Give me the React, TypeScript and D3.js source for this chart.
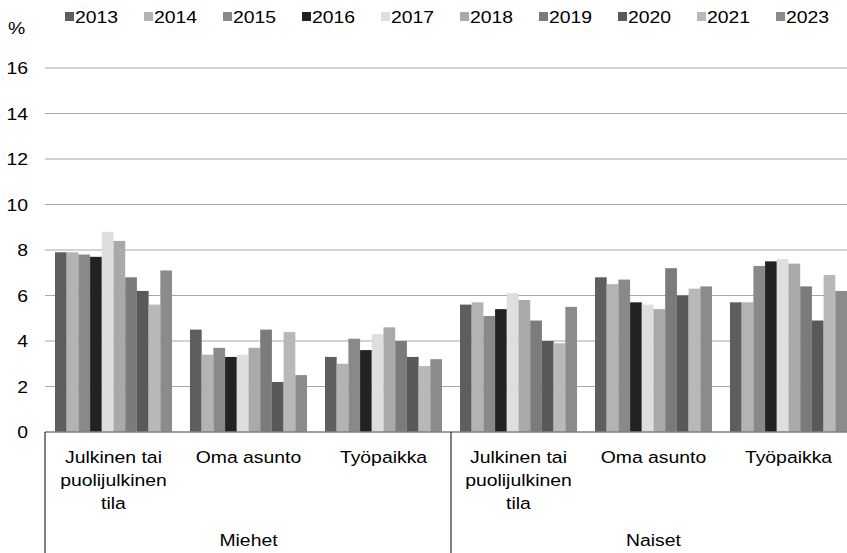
import React from "react";
import * as d3 from "d3";

const years = ["2013", "2014", "2015", "2016", "2017", "2018", "2019", "2020", "2021", "2023"];
const groups = ["Miehet", "Naiset"];
const places = ["Julkinen tai puolijulkinen tila", "Oma asunto", "Työpaikka"];
const placeLines = [["Julkinen tai", "puolijulkinen", "tila"], ["Oma asunto"], ["Työpaikka"]];
const yTicks = [0, 2, 4, 6, 8, 10, 12, 14, 16];

// values per category, one per year
const miehetJulkinen = [7.9, 7.9, 7.8, 7.7, 8.8, 8.4, 6.8, 6.2, 5.6, 7.1];
const miehetOma = [4.5, 3.4, 3.7, 3.3, 3.4, 3.7, 4.5, 2.2, 4.4, 2.5];
const miehetTyo = [3.3, 3.0, 4.1, 3.6, 4.3, 4.6, 4.0, 3.3, 2.9, 3.2];
const naisetJulkinen = [5.6, 5.7, 5.1, 5.4, 6.1, 5.8, 4.9, 4.0, 3.9, 5.5];
const naisetOma = [6.8, 6.5, 6.7, 5.7, 5.6, 5.4, 7.2, 6.0, 6.3, 6.4];
const naisetTyo = [5.7, 5.7, 7.3, 7.5, 7.6, 7.4, 6.4, 4.9, 6.9, 6.2];

const colors = ["#5e5e5e", "#b3b3b3", "#898989", "#222222", "#dedede", "#a9a9a9", "#7b7b7b", "#595959", "#b8b8b8", "#8b8b8b"];

const seriesByCat = [miehetJulkinen, miehetOma, miehetTyo, naisetJulkinen, naisetOma, naisetTyo];

const SX = 1.14;

function T({ x, y, anchor = "start", children }: { x: number; y: number; anchor?: string; children: React.ReactNode }) {
  return (
    <g transform={`translate(${x},${y}) scale(${SX},1)`}>
      <text x={0} y={0} textAnchor={anchor as any} fontSize={17} fill="#000">{children}</text>
    </g>
  );
}

export default function App() {
  const W = 847, H = 553;
  const left = 46, right = 856, top = 68, bottom = 432;
  const cats = d3.range(6).map(String);
  const x0 = d3.scaleBand().domain(cats).range([left, right]).paddingInner(0.133).paddingOuter(0.0665);
  const x1 = d3.scaleBand().domain(years).range([0, x0.bandwidth()]);
  const y = d3.scaleLinear().domain([0, 16]).range([bottom, top]);
  const font = "'Liberation Sans', Arial, sans-serif";
  const step = (right - left) / 6;

  return (
    <svg width={W} height={H} style={{ position: "absolute", left: 0, top: 0, background: "#fff" }} fontFamily={font}>
      {yTicks.filter(t => t > 0).map(t => (
        <line key={t} x1={45} x2={W} y1={y(t)} y2={y(t)} stroke="#a6a6a6" strokeWidth={1} />
      ))}
      {yTicks.map(t => (
        <T key={"l" + t} x={28} y={y(t) + 6} anchor="end">{t}</T>
      ))}
      <T x={8} y={34}>%</T>
      {seriesByCat.map((vals, ci) => (
        <g key={ci} transform={`translate(${x0(String(ci))},0)`}>
          {vals.map((v, yi) => (
            <rect key={yi} x={x1(years[yi])} y={y(v)} width={x1.bandwidth()} height={y(0) - y(v)} fill={colors[yi]} />
          ))}
        </g>
      ))}
      <line x1={45} x2={W} y1={bottom} y2={bottom} stroke="#808080" strokeWidth={1.5} />
      <line x1={45} x2={45} y1={bottom} y2={H} stroke="#000" strokeWidth={1} />
      <line x1={left + 3 * step} x2={left + 3 * step} y1={bottom} y2={H} stroke="#000" strokeWidth={1} />
      {cats.map((c, ci) => {
        const cx = (x0(c) as number) + x0.bandwidth() / 2;
        return placeLines[ci % 3].map((ln, li) => (
          <T key={c + li} x={cx} y={463 + li * 23} anchor="middle">{ln}</T>
        ));
      })}
      {groups.map((g, gi) => (
        <T key={g} x={left + step * (1.5 + gi * 3)} y={546} anchor="middle">{g}</T>
      ))}
      {years.map((yr, i) => (
        <g key={yr} transform={`translate(${65 + i * 79},0)`}>
          <rect x={0} y={12} width={9} height={9} fill={colors[i]} />
          <T x={10} y={23}>{yr}</T>
        </g>
      ))}
    </svg>
  );
}
